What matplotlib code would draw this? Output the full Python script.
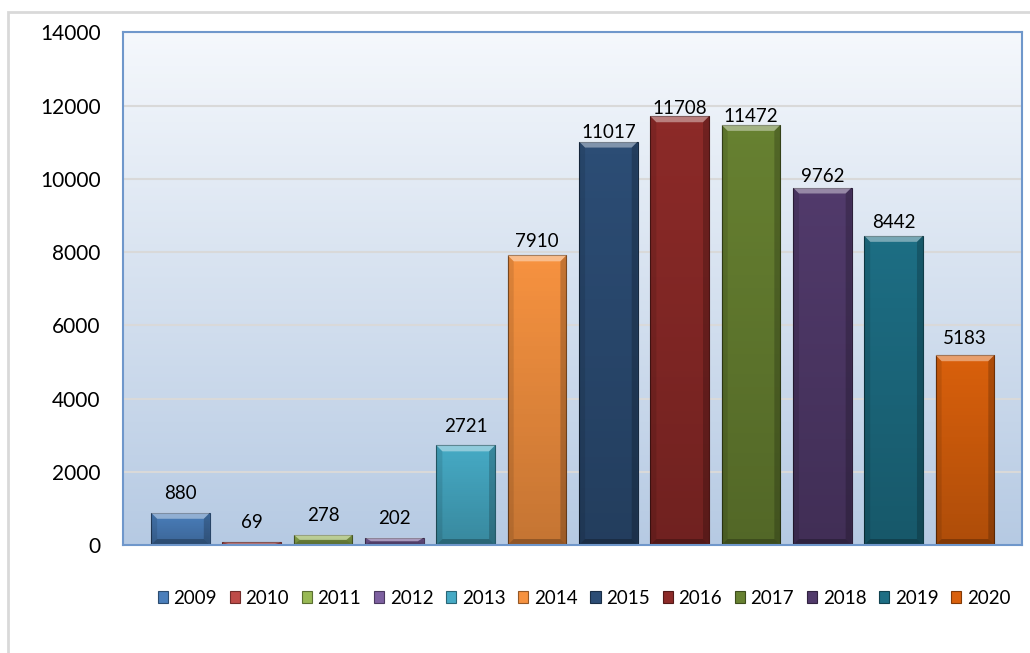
import numpy as np
import matplotlib.pyplot as plt
from matplotlib.patches import Patch, Polygon, Rectangle
from matplotlib.colors import to_rgb

plt.rcParams['font.family'] = ['Lato', 'DejaVu Sans']

years = ['2009', '2010', '2011', '2012', '2013', '2014',
         '2015', '2016', '2017', '2018', '2019', '2020']
values = [880, 69, 278, 202, 2721, 7910, 11017, 11708, 11472, 9762, 8442, 5183]
colors = ['#4A7EBB', '#BE4B48', '#98B954', '#7D60A0', '#46AAC5', '#F69240',
          '#2C4D75', '#8C2A28', '#678131', '#513A6B', '#1D6E84', '#D9600C']


def darker(c, f=0.6):
    r, g, b = to_rgb(c)
    return (r * f, g * f, b * f)


W, H = 1030, 653
fig = plt.figure(figsize=(W / 100, H / 100), dpi=100)

# light grey outer frame (only top/left visible in the original)
fig.add_artist(Rectangle((8 / W, -0.05), 1.1, 1 - 12 / H + 0.05, transform=fig.transFigure,
                         fill=False, edgecolor='#D9D9D9', lw=2))

ax_l, ax_r, ax_t, ax_b = 122.7, 1022, 32.3, 545
ax = fig.add_axes([ax_l / W, 1 - ax_b / H, (ax_r - ax_l) / W, (ax_b - ax_t) / H])

xlim = (-0.81, 11.8)
ylim = (0, 14000)
ax.set_xlim(*xlim)
ax.set_ylim(*ylim)

# background gradient of plot area
grad = np.linspace(0, 1, 256)[:, None]
top_c = np.array(to_rgb('#F5F8FC'))
bot_c = np.array(to_rgb('#B6CAE3'))
bg = top_c * (1 - grad[..., None]) + bot_c * grad[..., None]
ax.imshow(bg, extent=(0, 1, 0, 1), transform=ax.transAxes, aspect='auto', zorder=0)

ax.set_yticks(np.arange(0, 14001, 2000))
ax.yaxis.grid(True, color='#D9D9D9', lw=1.5, zorder=1)
ax.set_axisbelow(True)
ax.set_xticks([])
ax.tick_params(axis='y', length=0, pad=16, labelsize=15)
for s in ax.spines.values():
    s.set_color('#6F97CB')
    s.set_linewidth(1.5)

x = np.arange(len(years))
width = 0.823
bars = ax.bar(x, values, width=width, color=colors, zorder=2,
              edgecolor=[darker(c, 0.55) for c in colors], linewidth=0.8)

# pixel -> data scale
px_x = (ax_r - ax_l) / (xlim[1] - xlim[0])
px_y = (ax_b - ax_t) / (ylim[1] - ylim[0])
bev = 6.0

shade = np.linspace(0, 1, 64)[:, None]
for rect, v, c in zip(bars, values, colors):
    x0 = rect.get_x()
    x1 = x0 + rect.get_width()
    dx = bev / px_x
    dy = min(bev / px_y, v / 2)
    # vertical shading inside bar
    rgba = np.zeros((64, 1, 4))
    rgba[..., 3] = (0.2 * shade)
    im = ax.imshow(rgba, extent=(x0, x1, 0, v), aspect='auto', zorder=2.1)
    im.set_clip_path(rect)
    top = [(x0, v), (x1, v), (x1 - dx, v - dy), (x0 + dx, v - dy)]
    bot = [(x0, 0), (x1, 0), (x1 - dx, dy), (x0 + dx, dy)]
    lef = [(x0, 0), (x0, v), (x0 + dx, v - dy), (x0 + dx, dy)]
    rig = [(x1, 0), (x1, v), (x1 - dx, v - dy), (x1 - dx, dy)]
    ax.add_patch(Polygon(top, closed=True, facecolor='white', alpha=0.4, lw=0, zorder=2.2))
    ax.add_patch(Polygon(bot, closed=True, facecolor='black', alpha=0.25, lw=0, zorder=2.2))
    ax.add_patch(Polygon(lef, closed=True, facecolor='black', alpha=0.1, lw=0, zorder=2.2))
    ax.add_patch(Polygon(rig, closed=True, facecolor='black', alpha=0.2, lw=0, zorder=2.2))

vmax = max(values)
for xi, v in zip(x, values):
    gap = 14 - 12 * (v / vmax) ** 2
    ax.annotate(str(v), (xi, v), xytext=(0, gap / 1.389), textcoords='offset points',
                ha='center', va='baseline', fontsize=13.5, color='black', zorder=5)

handles = [Patch(facecolor=c, edgecolor=darker(c, 0.6), lw=0.8) for c in colors]
fig.legend(handles, years, loc='center', bbox_to_anchor=(584 / W, 1 - 598 / H), ncol=12,
           frameon=False, fontsize=13.5, handlelength=0.55, handleheight=0.55,
           handletextpad=0.3, columnspacing=0.67, borderaxespad=0)

fig.savefig('out.png', dpi=100)
